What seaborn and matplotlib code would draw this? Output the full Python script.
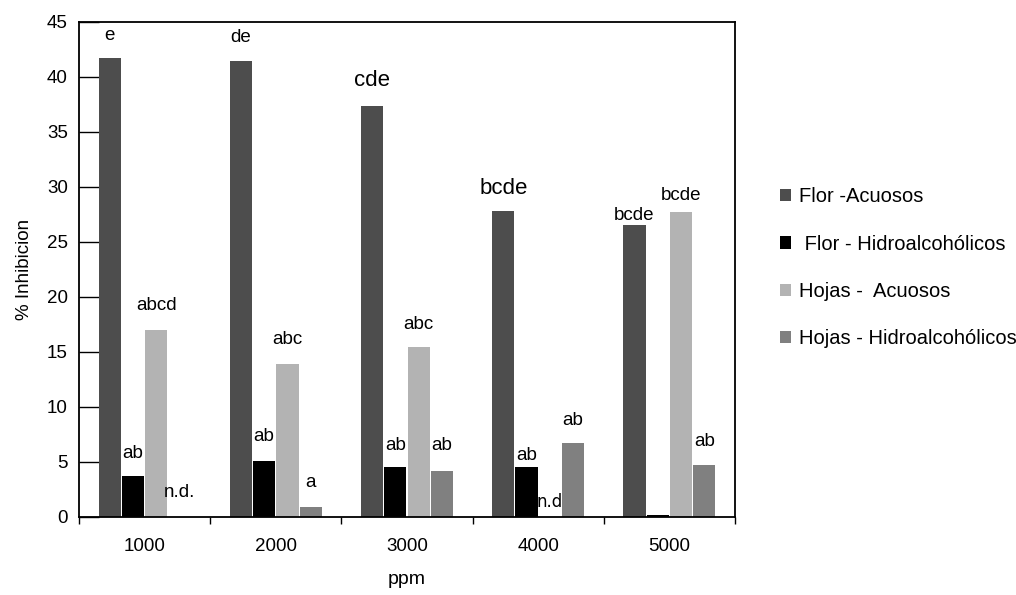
import matplotlib
matplotlib.use("Agg")
import matplotlib.pyplot as plt
from matplotlib.ticker import FixedLocator
import seaborn as sns
import pandas as pd

# data
ppm = ["1000", "2000", "3000", "4000", "5000"]
series = ["Flor -Acuosos", " Flor - Hidroalcohólicos",
          "Hojas -  Acuosos", "Hojas - Hidroalcohólicos"]
flor_acuosos = [41.7, 41.45, 37.4, 27.8, 26.5]
flor_hidro = [3.7, 5.05, 4.5, 4.5, 0.2]
hojas_acuosos = [17.0, 13.9, 15.45, 0.0, 27.7]
hojas_hidro = [0.0, 0.9, 4.2, 6.7, 4.7]

# significance letters and the height they sit at
flor_acuosos_lbl = ["e", "de", "cde", "bcde", "bcde"]
flor_acuosos_lbl_y = [43.8, 43.6, 39.7, 29.9, 27.4]
flor_hidro_lbl = ["ab", "ab", "ab", "ab", None]
flor_hidro_lbl_y = [5.8, 7.3, 6.5, 5.6, None]
hojas_acuosos_lbl = ["abcd", "abc", "abc", "n.d", "bcde"]
hojas_acuosos_lbl_y = [19.2, 16.1, 17.5, 1.4, 29.2]
hojas_hidro_lbl = ["n.d.", "a", "ab", "ab", "ab"]
hojas_hidro_lbl_y = [2.2, 3.1, 6.5, 8.8, 6.9]

colors = ["#4d4d4d", "#000000", "#b3b3b3", "#808080"]

sns.set_theme(style="white")
plt.rcParams["font.family"] = ["Liberation Sans", "DejaVu Sans"]
plt.rcParams["text.color"] = "black"
plt.rcParams["axes.labelcolor"] = "black"
plt.rcParams["xtick.color"] = "black"
plt.rcParams["ytick.color"] = "black"

values = [flor_acuosos, flor_hidro, hojas_acuosos, hojas_hidro]
rows = []
for s, vals in zip(series, values):
    for p, v in zip(ppm, vals):
        rows.append({"ppm": p, "serie": s, "valor": v})
data = pd.DataFrame(rows)

fig = plt.figure(figsize=(10.16, 5.95), dpi=100)
ax = fig.add_axes([0.0778, 0.1311, 0.6456, 0.8320])

sns.barplot(data=data, x="ppm", y="valor", hue="serie", hue_order=series,
            order=ppm, palette=colors, width=0.71, gap=0.05,
            saturation=1, errorbar=None, ax=ax, linewidth=0)

ax.set_xlim(-0.5, 4.5)
ax.set_ylim(0, 45)
ax.set_yticks(range(0, 46, 5))

for sp in ax.spines.values():
    sp.set_visible(True)
    sp.set_color("black")
    sp.set_linewidth(1.3)

# y ticks: short outward labelled ticks + long inner marks
ax.yaxis.remove_overlapping_locs = False
ax.yaxis.set_minor_locator(FixedLocator(range(0, 46, 5)))
ax.tick_params(axis="y", which="major", direction="out", length=4,
               width=1, labelsize=13.5, pad=4)
ax.tick_params(axis="y", which="minor", direction="in", length=14.5,
               width=1, left=True)

# x ticks: labels at centres, tick marks at group boundaries
ax.xaxis.set_minor_locator(FixedLocator([-0.5, 0.5, 1.5, 2.5, 3.5, 4.5]))
ax.tick_params(axis="x", which="major", length=0, labelsize=13.5, pad=15)
ax.tick_params(axis="x", which="minor", direction="out", length=5,
               width=1, bottom=True)

ax.set_xlabel("ppm", fontsize=14, labelpad=12)
ax.set_ylabel("% Inhibicion", fontsize=13.5, labelpad=10)

labels = [flor_acuosos_lbl, flor_hidro_lbl, hojas_acuosos_lbl, hojas_hidro_lbl]
labels_y = [flor_acuosos_lbl_y, flor_hidro_lbl_y, hojas_acuosos_lbl_y,
            hojas_hidro_lbl_y]
for cont, lbls, ys in zip(ax.containers, labels, labels_y):
    for bar, t, y in zip(cont, lbls, ys):
        if t is None:
            continue
        x = bar.get_x() + bar.get_width() / 2
        size = 13.5
        fam = ["Liberation Sans", "DejaVu Sans"]
        if t == "cde" or (t == "bcde" and y > 29.5 and bar.get_facecolor()[0] < 0.35):
            size = 16
        if t == "n.d":
            size = 12
            fam = ["Liberation Sans Narrow", "DejaVu Sans"]
        ax.text(x, y, t, ha="center", va="center", fontsize=size, family=fam)

handles, lbls = ax.get_legend_handles_labels()
ax.legend(handles, lbls, loc="center left", bbox_to_anchor=(0.75, 0.55),
          bbox_transform=fig.transFigure, frameon=False, fontsize=14.5,
          handlelength=0.55, handleheight=0.55, handletextpad=0.4,
          labelspacing=1.4)

plt.savefig("out.png", dpi=100)
